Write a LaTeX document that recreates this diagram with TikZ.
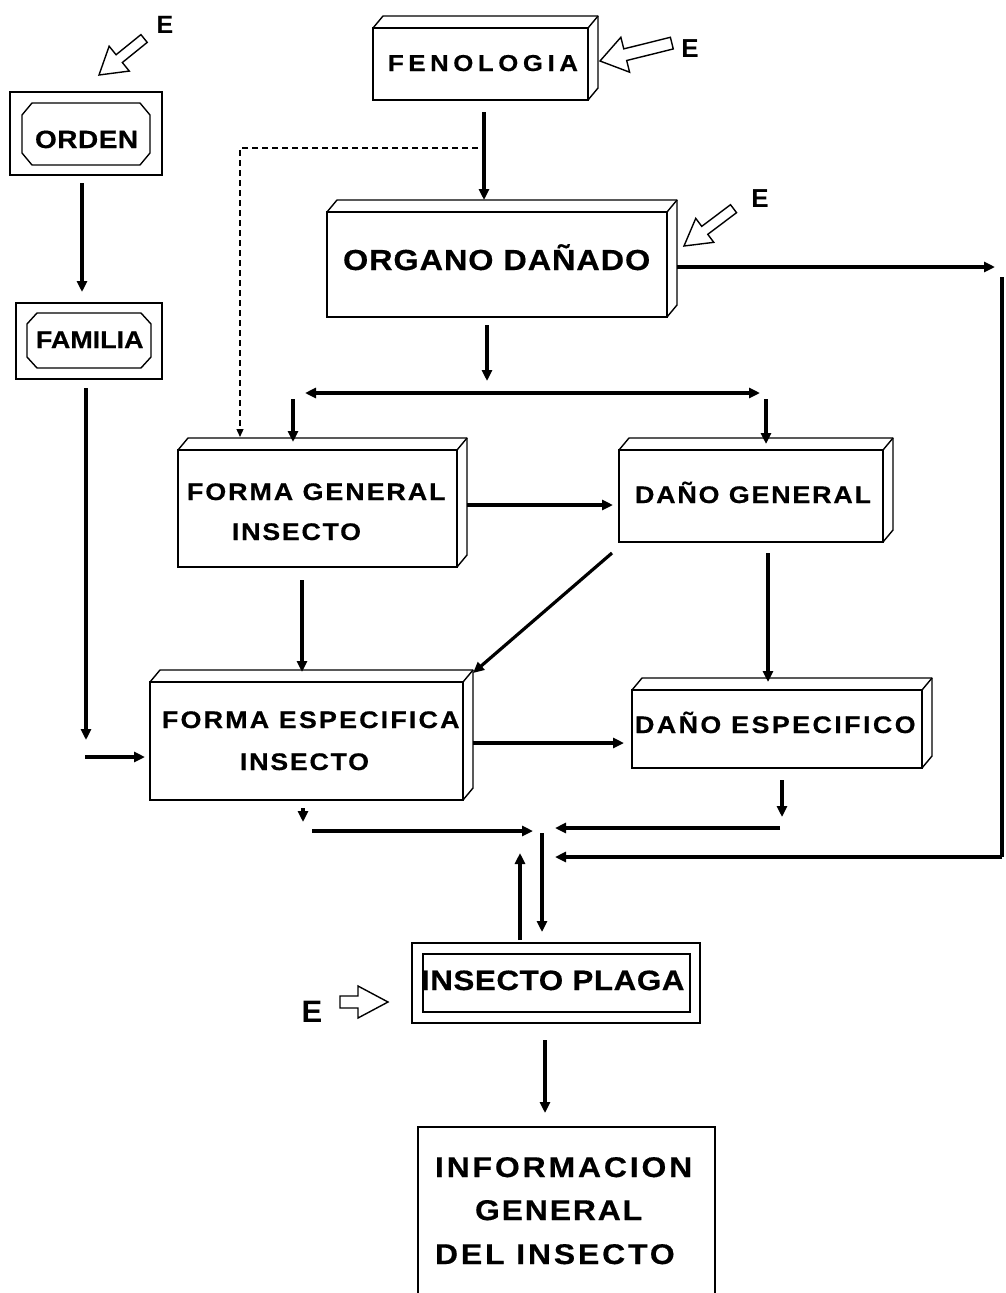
\documentclass[tikz,border=0pt]{standalone}
\usepackage{fontspec}
\setmainfont{Liberation Sans}
\usetikzlibrary{arrows.meta,calc}

% letter-spaced, slightly widened capitals and a bold size switch
\newcommand\spaced[2]{{\addfontfeature{LetterSpace=#1,FakeStretch=1.12,FakeBold=0.5}#2}}
\newcommand\fsz[1]{\fontsize{#1}{#1}\selectfont\bfseries}

% back and side faces of a block drawn behind a rectangular node
\newcommand\depthfaces[1]{%
  \draw[boxline, line join=round] (#1.north west) -- ++(10,-12)
    -- ($(#1.north east)+(10,-12)$) -- ($(#1.south east)+(10,-12)$) -- (#1.south east);
  \draw[boxline] (#1.north east) -- ++(10,-12);}

% octagonal frame cut from the corners of a node: node, x cut, y cut
\newcommand\octframe[3]{%
  \draw[boxline, line join=round] ($(#1.north west)+(#2,0)$) -- ($(#1.north east)+(-#2,0)$)
    -- ($(#1.north east)+(0,#3)$) -- ($(#1.south east)+(0,-#3)$)
    -- ($(#1.south east)+(-#2,0)$) -- ($(#1.south west)+(#2,0)$)
    -- ($(#1.south west)+(0,-#3)$) -- ($(#1.north west)+(0,#3)$) -- cycle;}

% outlined block arrow: tip, direction toward tail, length, shaft half, head half, head length
\newcommand\hollowarrow[6]{%
  \draw[hollow, shift={#1}, rotate=#2] (0,0) -- (#6,#5) -- (#6,#4) -- (#3,#4)
    -- (#3,-#4) -- (#6,-#4) -- (#6,-#5) -- cycle;}

\tikzset{
  boxline/.style={line width=1.4pt},
  plainbox/.style={draw, boxline, rectangle, inner sep=0pt, outer sep=0pt},
  area/.style={rectangle, inner sep=0pt, outer sep=0pt},
  lbl/.style={inner sep=0pt, outer sep=0pt, anchor=base west},
  elbl/.style={inner sep=0pt, outer sep=0pt, anchor=base},
  tip/.tip={Triangle[length=11pt,width=10pt]},
  conn/.style={line width=3.2pt, -tip},
  plainline/.style={line width=3.2pt},
  dashconn/.style={line width=1.3pt, dash pattern=on 6pt off 4pt,
    -{Triangle[length=8pt,width=7pt]}},
  hollow/.style={line width=1.4pt, line join=miter, fill=white},
}

\begin{document}
\begin{tikzpicture}[x=1pt,y=-1pt]
\useasboundingbox (0,0) rectangle (1005,1293);
\clip (0,0) rectangle (1005,1293);

% ---------- boxes ----------
\node[plainbox, minimum width=152pt, minimum height=83pt] (orden) at (86,133.5) {};
\node[area, minimum width=128pt, minimum height=62pt] (ordenin) at (86,134) {};
\octframe{ordenin}{10}{12}
\node[lbl] (ordent) at (35,148) {\fsz{25}\spaced{2}{ORDEN}};

\node[plainbox, minimum width=146pt, minimum height=76pt] (fam) at (89,341) {};
\node[area, minimum width=124pt, minimum height=55pt] (famin) at (89,340.5) {};
\octframe{famin}{10}{11}
\node[lbl] (famt) at (36,348) {\fsz{24}\spaced{0}{FAMILIA}};

\node[plainbox, minimum width=215pt, minimum height=72pt] (fen) at (480.5,64) {};
\node[lbl] (fent) at (388,71) {\fsz{23}\spaced{20}{FENOLOGIA}};

\node[plainbox, minimum width=340pt, minimum height=105pt] (org) at (497,264.5) {};
\node[lbl] (orgt) at (343,270) {\fsz{29}\spaced{3}{ORGANO DAÑADO}};

\node[plainbox, minimum width=279pt, minimum height=117pt] (fg) at (317.5,508.5) {};
\node[lbl] (fgt1) at (187,500) {\fsz{24}\spaced{8}{FORMA GENERAL}};
\node[lbl] (fgt2) at (232,540) {\fsz{24}\spaced{7}{INSECTO}};

\node[plainbox, minimum width=264pt, minimum height=92pt] (dg) at (751,496) {};
\node[lbl] (dgt) at (635,503) {\fsz{24}\spaced{7.5}{DAÑO GENERAL}};

\node[plainbox, minimum width=313pt, minimum height=118pt] (fe) at (306.5,741) {};
\node[lbl] (fet1) at (162,728) {\fsz{24}\spaced{9}{FORMA ESPECIFICA}};
\node[lbl] (fet2) at (240,770) {\fsz{24}\spaced{7}{INSECTO}};

\node[plainbox, minimum width=290pt, minimum height=78pt] (de) at (777,729) {};
\node[lbl] (det) at (635,733) {\fsz{24}\spaced{10}{DAÑO ESPECIFICO}};

\node[plainbox, minimum width=288pt, minimum height=80pt] (ip) at (556,983) {};
\node[plainbox, minimum width=267pt, minimum height=58pt] (ipin) at (556.5,983) {};
\node[lbl] (ipt) at (421,990) {\fsz{28}\spaced{2}{INSECTO PLAGA}};

\node[plainbox, minimum width=297pt, minimum height=183pt] (info) at (566.5,1218.5) {};
\node[lbl] (infot1) at (435,1177) {\fsz{28.5}\spaced{10}{INFORMACION}};
\node[lbl] (infot2) at (475,1220) {\fsz{28.5}\spaced{6.5}{GENERAL}};
\node[lbl] (infot3) at (435,1264) {\fsz{28.5}\spaced{10}{DEL INSECTO}};

% block depth faces
\depthfaces{fen}
\depthfaces{org}
\depthfaces{fg}
\depthfaces{dg}
\depthfaces{fe}
\depthfaces{de}

% ---------- entry marks ----------
\node[elbl, font=\fsz{25}] (e1) at (165,33) {E};
\hollowarrow{(99,75)}{39}{58}{5}{16}{26}
\node[elbl, font=\fsz{26}] (e2) at (690,57) {E};
\hollowarrow{(600,61)}{14}{74}{6}{18}{26}
\node[elbl, font=\fsz{26}] (e3) at (760,207) {E};
\hollowarrow{(684,246)}{37}{62}{5}{15}{26}
\node[elbl, font=\fsz{31}] (e4) at (312,1022) {E};
\hollowarrow{(388,1002)}{180}{48}{6}{16}{30}

% ---------- connectors ----------
\draw[conn] ($(orden.south)+(-4,8)$) -- ($(fam.north)+(-7,-11)$);
\draw[conn] ($(fam.south)+(-3,9)$) -- ($(fam.south)+(-3,361)$);
\draw[conn] ($(fe.west)+(-65,16)$) -- ($(fe.west)+(-5,16)$);

\draw[conn] ($(fen.south)+(3.5,12)$) -- ($(org.north)+(-13,-12)$);
\coordinate (dashstart) at (478,148);
\draw[dashconn] (dashstart) -| ($(fg.north west)+(62,-13)$);

\coordinate (hubin) at (487,381);
\draw[conn] ($(org.south)+(-10,8)$) -- (hubin);
\coordinate (hubL) at (305,393);
\coordinate (hubR) at (760,393);
\draw[plainline, tip-tip] (hubL) -- (hubR);
\coordinate (hubdl) at (293,399);
\coordinate (hubdr) at (766,399);
\draw[conn] (hubdl) -- ($(fg.north west)+(115,-8)$);
\draw[conn] (hubdr) -- ($(dg.north west)+(147,-6)$);

\draw[conn] ($(fg.east)+(10,-3.5)$) -- ($(dg.west)+(-6,9)$);
\draw[conn] ($(fg.south)+(-15.5,13)$) -- ($(fe.north)+(-4.5,-10)$);
\draw[conn] ($(dg.south)+(17,11)$) -- ($(de.north)+(-9,-8)$);
\draw[conn] ($(dg.south west)+(-7,11)$) -- ($(fe.north east)+(10,-9)$);
\draw[conn] ($(fe.east)+(10,2)$) -- ($(de.west)+(-8,14)$);

% collector lines above the pest box
\draw[conn] ($(fe.south)+(-3.5,8)$) -- ($(fe.south)+(-3.5,22)$);
\coordinate (cl1) at (312,831);
\coordinate (cl2) at (533,831);
\draw[conn] (cl1) -- (cl2);
\draw[conn] ($(de.south)+(5,12)$) -- ($(de.south)+(5,49)$);
\coordinate (cr1) at (780,828);
\coordinate (cr2) at (555,828);
\draw[conn] (cr1) -- (cr2);

\draw[conn] ($(org.east)+(10,2.5)$) -- (995,267);
\coordinate (rtop) at (1002,277);
\coordinate (rbot) at (1002,857);
\coordinate (rin) at (555,857);
\draw[plainline] (rtop) -- (rbot);
\draw[conn] (rbot) -- (rin);

\coordinate (cdown) at (542,833);
\draw[conn] (cdown) -- ($(ip.north)+(-14,-11)$);
\coordinate (cup) at (520,853);
\draw[conn] ($(ip.north)+(-36,-3)$) -- (cup);

\draw[conn] ($(ip.south)+(-11,17)$) -- ($(info.north)+(-21.5,-14)$);
\end{tikzpicture}
\end{document}
